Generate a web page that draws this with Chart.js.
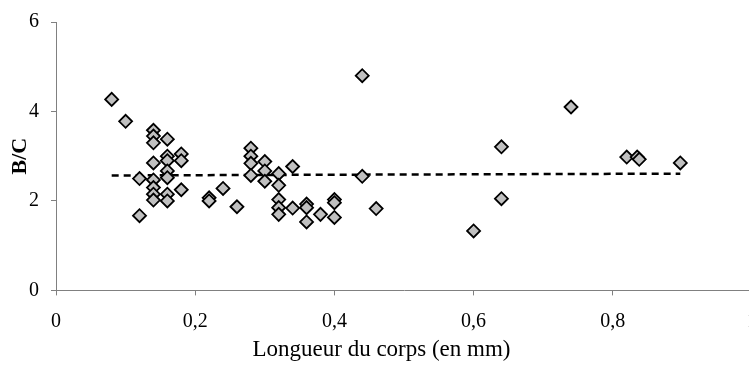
<!DOCTYPE html>
<html>
<head>
<meta charset="utf-8">
<script src="https://cdn.jsdelivr.net/npm/chart.js@4/dist/chart.umd.min.js"></script>
<style>
  html, body { margin: 0; padding: 0; background: #fff; overflow: hidden; }
  canvas { display: block; }
</style>
</head>
<body>
<canvas id="c" width="771" height="365"></canvas>
<script>
// Body length (mm) and B/C ratio for each specimen
const longueurs = [
  0.08, 0.10, 0.12, 0.12, 0.14, 0.14, 0.14, 0.14, 0.14, 0.14, 0.14, 0.14,
  0.16, 0.16, 0.16, 0.16, 0.16, 0.16, 0.16, 0.18, 0.18, 0.18, 0.22, 0.22,
  0.24, 0.26, 0.28, 0.28, 0.28, 0.28, 0.30, 0.30, 0.30, 0.32, 0.32, 0.32,
  0.32, 0.32, 0.34, 0.34, 0.36, 0.36, 0.36, 0.38, 0.40, 0.40, 0.40, 0.44,
  0.44, 0.46, 0.60, 0.64, 0.64, 0.74, 0.82, 0.835, 0.838, 0.897
];
const rapportsBC = [
  4.27, 3.78, 2.50, 1.67, 3.58, 3.45, 3.30, 2.85, 2.47, 2.30, 2.15, 2.02,
  3.38, 3.00, 2.90, 2.67, 2.52, 2.15, 2.00, 3.05, 2.90, 2.25, 2.07, 2.00,
  2.28, 1.87, 3.18, 3.00, 2.84, 2.57, 2.88, 2.67, 2.44, 2.61, 2.35, 2.03,
  1.85, 1.70, 2.77, 1.84, 1.93, 1.85, 1.53, 1.70, 2.03, 1.96, 1.63, 4.80,
  2.55, 1.83, 1.33, 3.21, 2.05, 4.10, 2.98, 2.98, 2.93, 2.85
];

// Linear trend line end points
const tendanceX = [0.08, 0.897];
const tendanceY = [2.57, 2.61];

// Axis tick labels (French decimal comma)
const xTickLabels = ['0', '0,2', '0,4', '0,6', '0,8', '1'];
const yTickLabels = ['0', '2', '4', '6'];

const points = longueurs.map((x, i) => ({ x: x, y: rapportsBC[i] }));
const tendance = tendanceX.map((x, i) => ({ x: x, y: tendanceY[i] }));

const serif = '"Liberation Serif", "Times New Roman", serif';

new Chart(document.getElementById('c'), {
  type: 'scatter',
  data: {
    datasets: [
      {
        label: 'B/C',
        data: points,
        pointStyle: 'rectRot',
        pointRadius: 6.5,
        pointHoverRadius: 6.5,
        backgroundColor: '#c0c0c0',
        borderColor: '#000000',
        borderWidth: 1.8,
        order: 1
      },
      {
        type: 'line',
        label: 'Tendance',
        data: tendance,
        borderColor: '#000000',
        borderWidth: 2.5,
        borderDash: [7, 5],
        pointRadius: 0,
        fill: false,
        order: 2
      }
    ]
  },
  options: {
    responsive: false,
    animation: false,
    events: [],
    layout: { padding: { left: 0, right: 8, top: 20, bottom: 0 } },
    plugins: {
      legend: { display: false },
      tooltip: { enabled: false },
      title: {
        display: true,
        position: 'bottom',
        text: 'Longueur du corps (en mm)',
        color: '#000',
        font: { family: serif, size: 23, weight: 'normal', lineHeight: 1.2 },
        padding: { top: 0, bottom: 1 }
      }
    },
    scales: {
      x: {
        type: 'linear',
        min: 0,
        max: 1,
        afterFit: (s) => { s.height = 46; },
        border: { display: true, color: '#808080', width: 1 },
        grid: { drawOnChartArea: false, drawTicks: true, tickLength: 5, color: '#808080' },
        ticks: {
          stepSize: 0.2,
          padding: 14,
          color: '#000',
          font: { family: serif, size: 20 },
          callback: (v, i) => xTickLabels[i]
        }
      },
      y: {
        min: 0,
        max: 6,
        afterFit: (s) => { s.width = 56; },
        border: { display: true, color: '#808080', width: 1 },
        grid: { drawOnChartArea: false, drawTicks: true, tickLength: 5, color: '#808080' },
        title: {
          display: true,
          text: 'B/C',
          color: '#000',
          font: { family: serif, size: 22, weight: 'bold' },
          padding: { top: 7, bottom: 0 }
        },
        ticks: {
          stepSize: 2,
          padding: 12,
          color: '#000',
          font: { family: serif, size: 20, lineHeight: 1 },
          callback: (v, i) => yTickLabels[i]
        }
      }
    }
  }
});
</script>
</body>
</html>
